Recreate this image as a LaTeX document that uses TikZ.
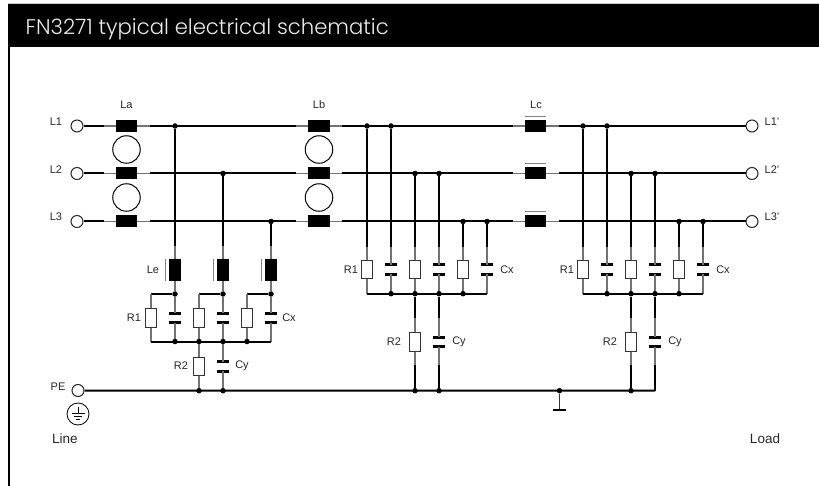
\documentclass[tikz,border=0pt]{standalone}
\usepackage{fontspec}
\setmainfont{Liberation Sans}
\newfontfamily\titlefont{Poppins Light}
\tikzset{
wire/.style={draw=black, line width=2pt}, % thick conductor
lead/.style={draw=black!55, line width=1.2pt}, % thin part next to a component
term/.style={circle, draw=black!85, fill=white, line width=1pt, minimum size=12pt, inner sep=0pt},
dot/.style={circle, fill=black, minimum size=5.5pt, inner sep=0pt},
core/.style={circle, draw=black, line width=1pt, minimum size=27.5pt, inner sep=0pt},
choke/.style={rectangle, fill=black, minimum width=21.5pt, minimum height=12pt, inner sep=0pt},
vchoke/.style={rectangle, fill=black, minimum width=12pt, minimum height=22pt, inner sep=0pt},
resbox/.style={rectangle, draw=black!80, fill=white, line width=0.9pt, minimum width=11.5pt, minimum height=18.5pt, inner sep=0pt},
capbox/.style={rectangle, minimum width=12.5pt, minimum height=9.5pt, inner sep=0pt},
plate/.style={draw=black, line width=3pt},
bar/.style={draw=black!50, line width=1pt},
lbl/.style={font=\fontsize{11pt}{13pt}\selectfont, text=black!85, inner sep=0pt},
biglbl/.style={font=\fontsize{13.5pt}{16pt}\selectfont, text=black!85, inner sep=0pt}
}
% capacitor: invisible box with two plates
\newcommand{\capac}[2]{
  \node[capbox] (#1) at (#2) {};
  \draw[plate] (#1.north west) -- (#1.north east);
  \draw[plate] (#1.south west) -- (#1.south east);
}
% series choke with its two thin leads
\newcommand{\serieschoke}[2]{
  \node[choke] (#1) at (#2) {};
  \coordinate (#1l) at ([xshift=-23pt]#1.center);
  \coordinate (#1r) at ([xshift=23pt]#1.center);
  \draw[lead] (#1l) -- (#1);
  \draw[lead] (#1) -- (#1r);
}
\begin{document}
\begin{tikzpicture}[x=1pt, y=-1pt]
    \useasboundingbox (0,0) rectangle (819,486);

    % frame and title
    \fill[black!20] (8,3) rectangle (819,4);
    \fill[black] (8,4) rectangle (819,47.5);
    \fill[black] (8,47) rectangle (10,486);
    \node[anchor=west, text=white!92!black, inner sep=0pt, font=\titlefont\fontsize{21.2pt}{24pt}\selectfont] (title) at (25.5,29) {FN3271 typical electrical schematic};

    % terminals
    \node[term] (in1) at (77,126) {};
    \node[term] (in2) at (77,173.5) {};
    \node[term] (in3) at (77,221.5) {};
    \node[term] (out1) at (752,126) {};
    \node[term] (out2) at (752,173.5) {};
    \node[term] (out3) at (752,221.5) {};
    \node[term] (pe) at (78,390.5) {};
    \node[lbl] (lblL1) at (56,122) {L1};
    \node[lbl] (lblL2) at (56,169.5) {L2};
    \node[lbl] (lblL3) at (56,217) {L3};
    \node[lbl] (lblL1o) at (772,122) {L1'};
    \node[lbl] (lblL2o) at (772,169.5) {L2'};
    \node[lbl] (lblL3o) at (772,217) {L3'};
    \node[lbl] (lblPE) at (58,386.5) {PE};

    % series chokes and their cores
    \foreach \n/\y in {1/126,2/173.5,3/221.5} {
        \serieschoke{La\n}{126.5,\y}
        \serieschoke{Lb\n}{319,\y}
        \serieschoke{Lc\n}{535.5,\y}
        \draw[bar] ([yshift=3.5pt]Lc\n.north west) -- ([yshift=3.5pt]Lc\n.north east);
        \draw[wire] (in\n) -- (La\n l);
        \draw[wire] (La\n r) -- (Lb\n l);
        \draw[wire] (Lb\n r) -- (Lc\n l);
        \draw[wire] (Lc\n r) -- (out\n);
    }
    \node[core] (coreA1) at (126.5,149.5) {};
    \node[core] (coreA2) at (126.5,197.5) {};
    \node[core] (coreB1) at (319,149.5) {};
    \node[core] (coreB2) at (319,197.5) {};
    \node[lbl] (lblLa) at (126.5,105) {La};
    \node[lbl] (lblLb) at (319,105) {Lb};
    \node[lbl] (lblLc) at (536,105) {Lc};

    % input stage with Le
    \foreach \n/\x/\y/\r in {1/175/126/151,2/223/173.5/199,3/271/221.5/247} {
        \node[dot] (ej\n) at (\x,\y) {};
        \coordinate (es\n) at (\x,246);
        \node[vchoke] (Le\n) at (\x,270) {};
        \draw[bar] ([xshift=-3pt]Le\n.north west) -- ([xshift=-3pt]Le\n.south west);
        \node[dot] (ek\n) at (\x,294) {};
        \coordinate (ec\n) at (\r,294);
        \node[resbox] (eR\n) at (\r,318) {};
        \coordinate (ef\n) at (\r,341.5);
        \capac{eC\n}{\x,318}
        \coordinate (eb\n) at (\x,341.5);
        \draw[wire] (ej\n) -- (es\n);
        \draw[lead] (es\n) -- (Le\n);
        \draw[lead] (Le\n) -- (ek\n);
        \draw[wire] (ek\n) -- (ec\n);
        \draw[lead] (ek\n) -- (eC\n.north);
        \draw[lead] (eC\n.south) -- (eb\n);
        \draw[lead] (ec\n) -- (eR\n);
        \draw[lead] (eR\n) -- (ef\n);
    }
    \draw[wire] (ef1) -- (eb3);
    \node[dot] (ed1) at (eb1) {};
    \node[dot] (ed2) at (ef2) {};
    \node[dot] (ed3) at (eb2) {};
    \node[dot] (ed4) at (ef3) {};
    \node[resbox] (eR4) at (199,366.5) {};
    \capac{eC4}{223,366.5}
    \node[dot] (ep1) at (199,390.7) {};
    \node[dot] (ep2) at (223,390.7) {};
    \draw[lead] (ed2) -- (eR4);
    \draw[lead] (eR4) -- (ep1);
    \draw[lead] (ed3) -- (eC4.north);
    \draw[lead] (eC4.south) -- (ep2);
    \node[lbl] (lblLe) at (153,270) {Le};
    \node[lbl] (lblR1e) at (134,318) {R1};
    \node[lbl] (lblCxe) at (289,318) {Cx};
    \node[lbl] (lblR2e) at (181,366) {R2};
    \node[lbl] (lblCye) at (242,366) {Cy};

    % the two X/Y stages, same drawing shifted
    \foreach \st/\sh in {b/0,c/216} {
        \begin{scope}[xshift=\sh, name prefix=\st]
            \foreach \k/\x/\y in {1/367/126,3/415/173.5,5/463/221.5} {
                \node[resbox] (C\k) at (\x,269.5) {};
                \node[dot] (j\k) at (\x,\y) {};
                \coordinate (s\k) at (\x,247);
                \coordinate (b\k) at (\x,293.7);
            }
            \foreach \k/\x/\y in {2/391/126,4/439/173.5,6/487/221.5} {
                \capac{C\k}{\x,269.5}
                \node[dot] (j\k) at (\x,\y) {};
                \coordinate (s\k) at (\x,247);
                \coordinate (b\k) at (\x,293.7);
            }
            \foreach \k in {1,...,6} {
                \draw[wire] (j\k) -- (s\k);
                \draw[lead] (s\k) -- (C\k.north);
                \draw[lead] (C\k.south) -- (b\k);
            }
            \draw[wire] (b1) -- (b6);
            \foreach \k in {2,...,5} {
                \node[dot] (d\k) at (b\k) {};
            }
            % to PE
            \node[resbox] (R2) at (415,342) {};
            \capac{Cy}{439,342}
            \coordinate (u1) at (415,318);
            \coordinate (u2) at (439,318);
            \coordinate (v1) at (415,365);
            \coordinate (v2) at (439,365);
            \coordinate (e1) at (415,390.7);
            \coordinate (e2) at (439,390.7);
            \draw[wire] (d3) -- (u1);
            \draw[wire] (d4) -- (u2);
            \draw[lead] (u1) -- (R2);
            \draw[lead] (u2) -- (Cy.north);
            \draw[lead] (R2) -- (v1);
            \draw[lead] (Cy.south) -- (v2);
            \draw[wire] (v1) -- (e1);
            \draw[wire] (v2) -- (e2);
            \node[dot] (p1) at (e1) {};
            \node[lbl] (lblR1) at (351,270) {R1};
            \node[lbl] (lblCx) at (507,269.5) {Cx};
            \node[lbl] (lblR2) at (394,342) {R2};
            \node[lbl] (lblCy) at (459,342) {Cy};
        \end{scope}
    }
    \node[dot] (bp2) at (be2) {};

    % PE rail and earth
    \draw[wire] (pe) -- (ce2);
    \node[dot] (earth) at (559.5,390.7) {};
    \node[rectangle, fill=black, minimum width=13pt, minimum height=2.4pt, inner sep=0pt] (earthplate) at (559.5,410) {};
    \draw[lead, draw=black!80] (earth) -- (earthplate);

    % earth symbol below PE
    \node[circle, draw=black, line width=0.8pt, minimum size=22pt, inner sep=0pt] (gnd) at (78,414) {};
    \draw[line width=0.7pt] (78,407) -- (78,413);
    \draw[line width=0.7pt] (71.5,413) -- (84.5,413);
    \draw[line width=0.7pt] (74,416) -- (82,416);
    \draw[line width=0.7pt] (76,419) -- (80,419);

    \node[biglbl] (lblLine) at (65,439) {Line};
    \node[biglbl] (lblLoad) at (765,439) {Load};
\end{tikzpicture}
\end{document}
